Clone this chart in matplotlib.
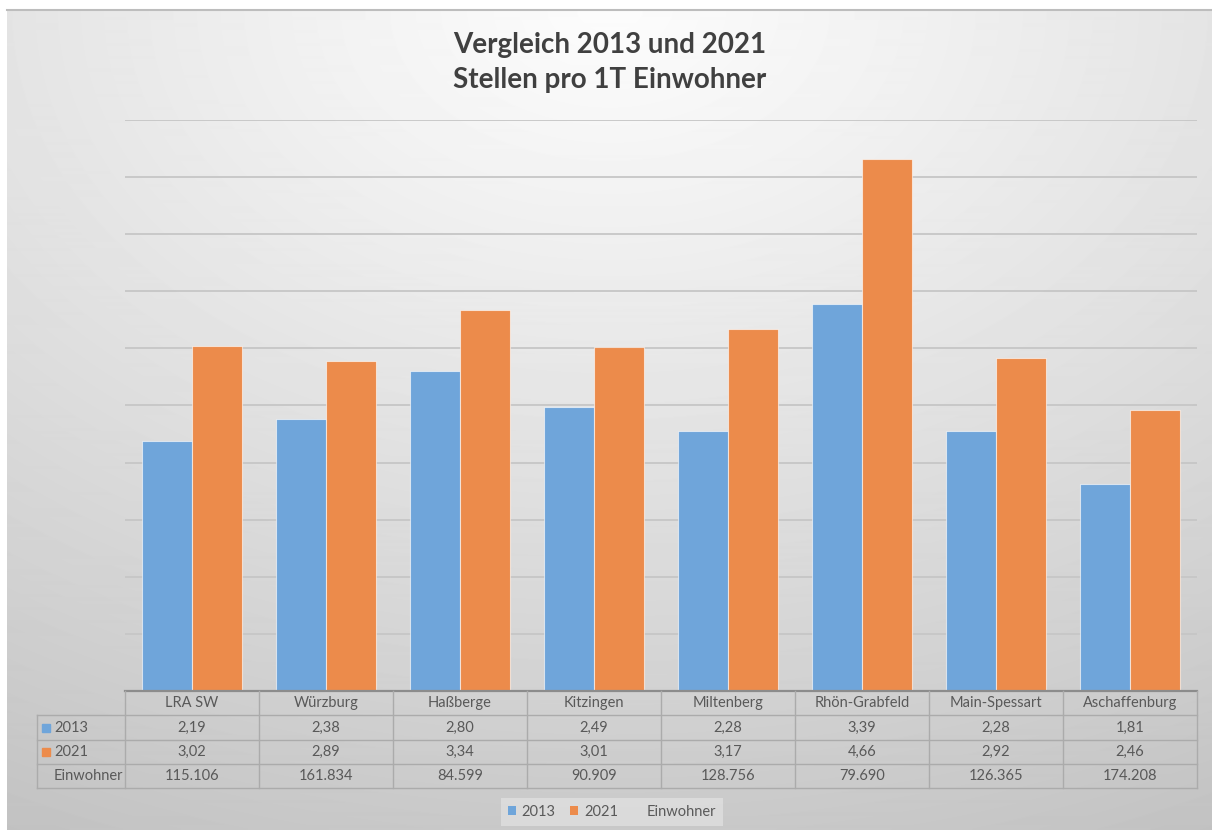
import numpy as np
import matplotlib
matplotlib.use('Agg')
import matplotlib.pyplot as plt
from matplotlib.patches import Patch, Rectangle

plt.rcParams['font.family'] = ['Lato', 'DejaVu Sans']

# data
labels = ['LRA SW', 'Würzburg', 'Haßberge', 'Kitzingen', 'Miltenberg',
          'Rhön-Grabfeld', 'Main-Spessart', 'Aschaffenburg']
v2013 = [2.19, 2.38, 2.80, 2.49, 2.28, 3.39, 2.28, 1.81]
v2021 = [3.02, 2.89, 3.34, 3.01, 3.17, 4.66, 2.92, 2.46]
einwohner = [115106, 161834, 84599, 90909, 128756, 79690, 126365, 174208]

W, H = 1212, 830
BLUE = '#6FA5DA'
ORANGE = '#EC8B4B'
TXT = '#595959'
LINE = '#ABABAB'
FS = 10.5


def fx(px):
    return px / W


def fy(py):
    return 1 - py / H


def dez(v):
    return ('%.2f' % v).replace('.', ',')


def tsd(n):
    return '{:,}'.format(n).replace(',', '.')


fig = plt.figure(figsize=(W / 100, H / 100), dpi=100, facecolor='white')

# gradient background of the chart area
bg = fig.add_axes([fx(7), 0, 1 - fx(7), fy(10)], zorder=-10)
yy, xx = np.mgrid[0:820, 0:1205]
d = np.sqrt(((xx - 603) / 1212.0) ** 2 + ((yy - 0) / 830.0) ** 2)
val = np.clip(252 - 52 * d ** 1.1, 0, 255) / 255.0
bg.imshow(val, cmap='gray', vmin=0, vmax=1, aspect='auto', interpolation='bilinear')
bg.set_axis_off()

# overlay in pixel coords for table, title, border
ov = fig.add_axes([0, 0, 1, 1], zorder=5)
ov.set_xlim(0, W)
ov.set_ylim(H, 0)
ov.set_axis_off()
ov.patch.set_alpha(0)
ov.plot([7, W], [10, 10], color='#BDBDBD', lw=1.5)

ov.text(610, 45, 'Vergleich 2013 und 2021', ha='center', va='center',
        fontsize=20, fontweight='bold', color='#404040')
ov.text(610, 80, 'Stellen pro 1T Einwohner', ha='center', va='center',
        fontsize=20, fontweight='bold', color='#404040')

# bar chart
ax = fig.add_axes([fx(125), fy(691), fx(1197) - fx(125), fy(120) - fy(691)])
ax.patch.set_alpha(0)
x = np.arange(len(labels))
w = 0.373
b1 = ax.bar(x - w / 2, v2013, w, color=BLUE, edgecolor=(1, 1, 1, 0.6), lw=0.8, zorder=3)
b2 = ax.bar(x + w / 2, v2021, w, color=ORANGE, edgecolor=(1, 1, 1, 0.6), lw=0.8, zorder=3)
ax.set_xlim(-0.5, len(labels) - 0.5)
ax.set_ylim(0, 5)
ax.set_yticks(np.arange(0, 5.01, 0.5))
ax.yaxis.grid(True, color='#C6C6C6', lw=1.3)
ax.tick_params(left=False, bottom=False, labelleft=False, labelbottom=False)
for s in ax.spines.values():
    s.set_visible(False)

# data table
left, x0, x1 = 37, 125, 1197
rows = [691, 715, 740, 764, 788]
edges = np.linspace(x0, x1, len(labels) + 1)
for yv in rows[1:]:
    ov.plot([left, x1], [yv, yv], color=LINE, lw=1)
ov.plot([x0, x1], [691, 691], color='#8C8C8C', lw=1.6)
ov.plot([left, left], [rows[1], rows[-1]], color=LINE, lw=1)
for e in edges:
    ov.plot([e, e], [rows[0], rows[-1]], color=LINE, lw=1)

centers = (edges[:-1] + edges[1:]) / 2
ymid = [(rows[i] + rows[i + 1]) / 2 for i in range(4)]
for i, c in enumerate(centers):
    ov.text(c, ymid[0], labels[i], ha='center', va='center', fontsize=FS, color=TXT)
    ov.text(c, ymid[1], dez(v2013[i]), ha='center', va='center', fontsize=FS, color=TXT)
    ov.text(c, ymid[2], dez(v2021[i]), ha='center', va='center', fontsize=FS, color=TXT)
    ov.text(c, ymid[3], tsd(einwohner[i]), ha='center', va='center', fontsize=FS, color=TXT)

ov.add_patch(Rectangle((42, ymid[1] - 4), 8, 8, color=BLUE))
ov.add_patch(Rectangle((42, ymid[2] - 4), 8, 8, color=ORANGE))
ov.text(54, ymid[1], '2013', ha='left', va='center', fontsize=FS, color=TXT)
ov.text(54, ymid[2], '2021', ha='left', va='center', fontsize=FS, color=TXT)
ov.text(54, ymid[3], 'Einwohner', ha='left', va='center', fontsize=FS, color=TXT)

# legend
handles = [Patch(facecolor=BLUE), Patch(facecolor=ORANGE),
           Patch(facecolor='none', edgecolor='none')]
leg = fig.legend(handles, ['2013', '2021', 'Einwohner'], ncol=3, loc='center',
                 bbox_to_anchor=(fx(612), fy(812)), frameon=True, fancybox=False,
                 facecolor='#E2E2E2', edgecolor='none', framealpha=0.7,
                 handlelength=0.55, handleheight=0.55, handletextpad=0.4,
                 columnspacing=1.0, fontsize=FS, borderpad=0.45)
for t in leg.get_texts():
    t.set_color(TXT)

fig.savefig('out.png', dpi=100)
